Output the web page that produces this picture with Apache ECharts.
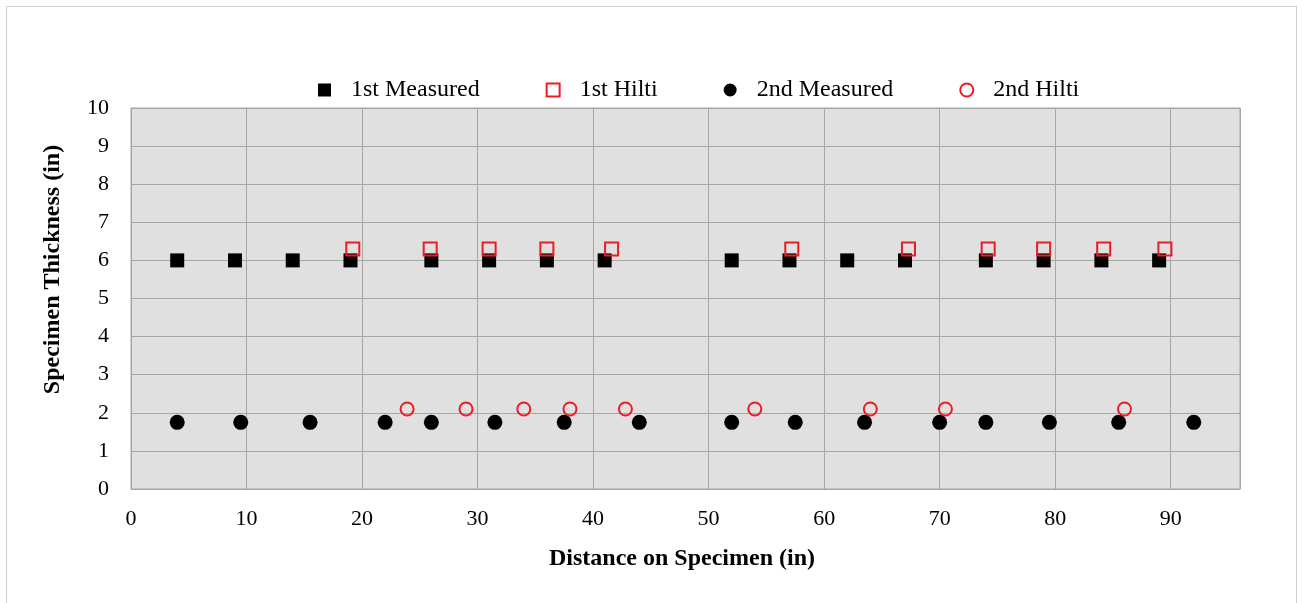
<!DOCTYPE html>
<html>
<head>
<meta charset="utf-8">
<script src="https://cdn.jsdelivr.net/npm/echarts@6/dist/echarts.min.js"></script>
<style>
  html, body { margin: 0; padding: 0; background: #fff; }
  #frame { position: absolute; left: 6px; top: 6px; width: 1291px; height: 600px; border: 1px solid #d0d0d0; box-sizing: border-box; }
  #chart { width: 1302px; height: 603px; }
</style>
</head>
<body>
<div id="frame"></div>
<div id="chart"></div>
<script>
// distance (in) and thickness (in)
const measured1X = [4, 9, 14, 19, 26, 31, 36, 41, 52, 57, 62, 67, 74, 79, 84, 89];
const measured1Y = [6, 6, 6, 6, 6, 6, 6, 6, 6, 6, 6, 6, 6, 6, 6, 6];
const hilti1X = [19.2, 25.9, 31, 36, 41.6, 57.2, 67.3, 74.2, 79, 84.2, 89.5];
const hilti1Y = [6.3, 6.3, 6.3, 6.3, 6.3, 6.3, 6.3, 6.3, 6.3, 6.3, 6.3];
const measured2X = [4, 9.5, 15.5, 22, 26, 31.5, 37.5, 44, 52, 57.5, 63.5, 70, 74, 79.5, 85.5, 92];
const measured2Y = [1.75, 1.75, 1.75, 1.75, 1.75, 1.75, 1.75, 1.75, 1.75, 1.75, 1.75, 1.75, 1.75, 1.75, 1.75, 1.75];
const hilti2X = [23.9, 29, 34, 38, 42.8, 54, 64, 70.5, 86];
const hilti2Y = [2.1, 2.1, 2.1, 2.1, 2.1, 2.1, 2.1, 2.1, 2.1];

const RED = '#ec1c24';
const font = '"Liberation Serif", "Times New Roman", serif';

function pairs(xs, ys) {
  return xs.map((x, i) => [x, ys[i]]);
}

const chart = echarts.init(document.getElementById('chart'));
chart.setOption({
  animation: false,
  textStyle: { fontFamily: font },
  legend: {
    top: 73,
    left: 313,
    itemWidth: 13,
    itemHeight: 13,
    itemGap: 66,
    textStyle: { fontFamily: font, fontSize: 24, color: '#000', padding: [0, 0, 0, 15] },
    data: ['1st Measured', '1st Hilti', '2nd Measured', '2nd Hilti']
  },
  grid: {
    left: 131, right: 62, top: 108, bottom: 114,
    show: true, backgroundColor: '#e0e0e0', borderColor: '#a6a6a6', borderWidth: 1
  },
  xAxis: {
    type: 'value', min: 0, max: 96, interval: 10,
    name: 'Distance on Specimen (in)', nameLocation: 'middle', nameGap: 58,
    nameTextStyle: { fontFamily: font, fontSize: 24, fontWeight: 'bold', color: '#000', padding: [0, 7, 0, 0] },
    axisLine: { lineStyle: { color: '#a6a6a6' } },
    axisTick: { show: false },
    axisLabel: { fontFamily: font, fontSize: 22, color: '#000', margin: 19, showMaxLabel: false },
    splitLine: { lineStyle: { color: '#a6a6a6' } }
  },
  yAxis: {
    type: 'value', min: 0, max: 10, interval: 1,
    name: 'Specimen Thickness (in)', nameLocation: 'middle', nameGap: 66,
    nameTextStyle: { fontFamily: font, fontSize: 24, fontWeight: 'bold', color: '#000', padding: [0, 0, 0, 58] },
    axisLine: { show: true, lineStyle: { color: '#a6a6a6' } },
    axisTick: { show: false },
    axisLabel: { fontFamily: font, fontSize: 22, color: '#000', margin: 22 },
    splitLine: { lineStyle: { color: '#a6a6a6' } }
  },
  series: [
    {
      name: '1st Measured', type: 'scatter', symbol: 'rect', symbolSize: 14,
      itemStyle: { color: '#000', opacity: 1 },
      data: pairs(measured1X, measured1Y)
    },
    {
      name: '1st Hilti', type: 'scatter', symbol: 'rect', symbolSize: 13,
      itemStyle: { color: 'rgba(0,0,0,0)', borderColor: RED, borderWidth: 2, opacity: 1 },
      data: pairs(hilti1X, hilti1Y)
    },
    {
      name: '2nd Measured', type: 'scatter', symbol: 'circle', symbolSize: 15,
      itemStyle: { color: '#000', opacity: 1 },
      data: pairs(measured2X, measured2Y)
    },
    {
      name: '2nd Hilti', type: 'scatter', symbol: 'circle', symbolSize: 13,
      itemStyle: { color: 'rgba(0,0,0,0)', borderColor: RED, borderWidth: 2, opacity: 1 },
      data: pairs(hilti2X, hilti2Y)
    }
  ]
});
</script>
</body>
</html>
